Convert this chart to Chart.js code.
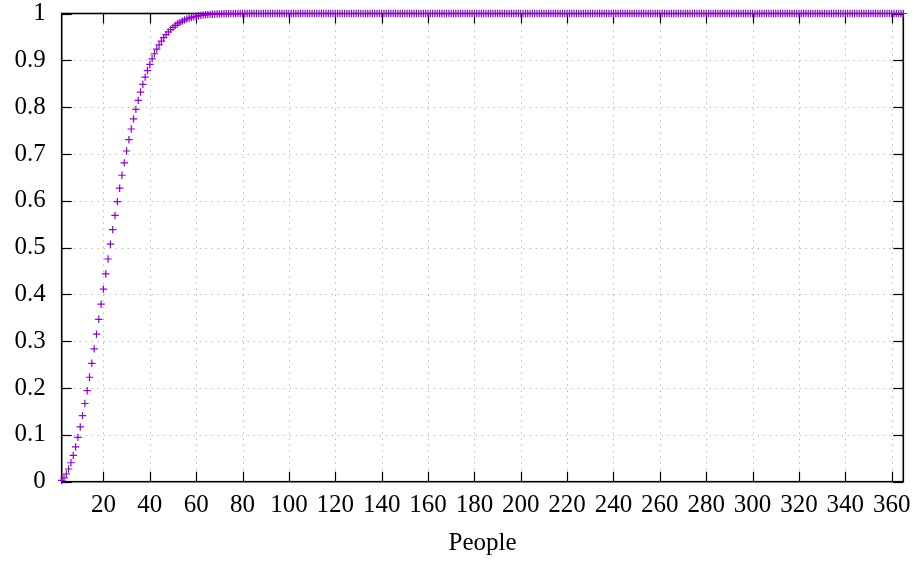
<!DOCTYPE html>
<html>
<head>
<meta charset="utf-8">
<script src="https://cdn.jsdelivr.net/npm/chart.js@4/dist/chart.umd.min.js"></script>
<style>
html,body{margin:0;padding:0;background:#fff;}
#wrap{width:914px;height:563px;position:relative;}
</style>
</head>
<body>
<div id="wrap"><canvas id="c" width="914" height="563"></canvas></div>
<script>
// Number of people in the group (x), starting at 2
const firstPeople = 2;
// Probability for each group size 2..80
const probHead = [
  0.0027, 0.0082, 0.0164, 0.0271, 0.0405, 0.0562, 0.0743, 0.0946, 0.1169,
  0.1411, 0.1670, 0.1944, 0.2231, 0.2529, 0.2836, 0.3150, 0.3469, 0.3791, 0.4114,
  0.4437, 0.4757, 0.5073, 0.5383, 0.5687, 0.5982, 0.6269, 0.6545, 0.6810, 0.7063,
  0.7305, 0.7533, 0.7750, 0.7953, 0.8144, 0.8322, 0.8487, 0.8641, 0.8782, 0.8912,
  0.9032, 0.9140, 0.9239, 0.9329, 0.9410, 0.9483, 0.9548, 0.9606, 0.9658, 0.9704,
  0.9744, 0.9780, 0.9811, 0.9839, 0.9863, 0.9883, 0.9901, 0.9917, 0.9930, 0.9941,
  0.9951, 0.9959, 0.9966, 0.9972, 0.9977, 0.9981, 0.9984, 0.9987, 0.9990, 0.9992,
  0.9993, 0.9995, 0.9996, 0.9997, 0.9997, 0.9998, 0.9998, 0.9999, 0.9999, 0.9999
];
// Group sizes 81..365: the curve sits on 1
const probTail = [
  1,1,1,1,1,1,1,1,1,1,1,1,1,1,1,1,1,1,1,1,
  1,1,1,1,1,1,1,1,1,1,1,1,1,1,1,1,1,1,1,1,
  1,1,1,1,1,1,1,1,1,1,1,1,1,1,1,1,1,1,1,1,
  1,1,1,1,1,1,1,1,1,1,1,1,1,1,1,1,1,1,1,1,
  1,1,1,1,1,1,1,1,1,1,1,1,1,1,1,1,1,1,1,1,
  1,1,1,1,1,1,1,1,1,1,1,1,1,1,1,1,1,1,1,1,
  1,1,1,1,1,1,1,1,1,1,1,1,1,1,1,1,1,1,1,1,
  1,1,1,1,1,1,1,1,1,1,1,1,1,1,1,1,1,1,1,1,
  1,1,1,1,1,1,1,1,1,1,1,1,1,1,1,1,1,1,1,1,
  1,1,1,1,1,1,1,1,1,1,1,1,1,1,1,1,1,1,1,1,
  1,1,1,1,1,1,1,1,1,1,1,1,1,1,1,1,1,1,1,1,
  1,1,1,1,1,1,1,1,1,1,1,1,1,1,1,1,1,1,1,1,
  1,1,1,1,1,1,1,1,1,1,1,1,1,1,1,1,1,1,1,1,
  1,1,1,1,1,1,1,1,1,1,1,1,1,1,1,1,1,1,1,1,
  1,1,1,1,1
];
const xTicks = [20,40,60,80,100,120,140,160,180,200,220,240,260,280,300,320,340,360];
const yTicks = [0,0.1,0.2,0.3,0.4,0.5,0.6,0.7,0.8,0.9,1];
const yTickLabels = ['0','0.1','0.2','0.3','0.4','0.5','0.6','0.7','0.8','0.9','1'];
const xMin = 2, xMax = 365;
const xTitle = 'People';

const probs = probHead.concat(probTail);
const points = probs.map((p, i) => ({x: firstPeople + i, y: p}));

const FONT = "'Liberation Serif', 'DejaVu Serif', serif";
const FSIZE = 25;

const framePlugin = {
  id: 'frame',
  beforeDatasetsDraw(chart) {
    const {ctx, chartArea: a, scales: {x, y}} = chart;
    ctx.save();
    // dotted grid
    ctx.strokeStyle = '#9a9a9a';
    ctx.lineWidth = 1;
    ctx.setLineDash([1, 5]);
    xTicks.forEach(v => {
      const px = Math.round(x.getPixelForValue(v)) + 0.5;
      ctx.beginPath(); ctx.moveTo(px, a.bottom); ctx.lineTo(px, a.top); ctx.stroke();
    });
    yTicks.forEach(v => {
      if (v <= 0 || v >= 1) return;
      const py = Math.round(y.getPixelForValue(v)) + 0.5;
      ctx.beginPath(); ctx.moveTo(a.left, py); ctx.lineTo(a.right, py); ctx.stroke();
    });
    ctx.setLineDash([]);
    // inward ticks, mirrored
    ctx.strokeStyle = '#000';
    ctx.lineWidth = 1.2;
    const tl = 10;
    xTicks.forEach(v => {
      const px = Math.round(x.getPixelForValue(v)) + 0.5;
      ctx.beginPath(); ctx.moveTo(px, a.bottom); ctx.lineTo(px, a.bottom - tl); ctx.stroke();
      ctx.beginPath(); ctx.moveTo(px, a.top); ctx.lineTo(px, a.top + tl); ctx.stroke();
    });
    yTicks.forEach(v => {
      const py = Math.round(y.getPixelForValue(v)) + 0.5;
      ctx.beginPath(); ctx.moveTo(a.left, py); ctx.lineTo(a.left + tl, py); ctx.stroke();
      ctx.beginPath(); ctx.moveTo(a.right, py); ctx.lineTo(a.right - tl, py); ctx.stroke();
    });
    // frame
    ctx.lineWidth = 1.6;
    ctx.strokeRect(a.left, a.top, a.right - a.left, a.bottom - a.top);
    ctx.restore();
  }
};

new Chart(document.getElementById('c'), {
  type: 'scatter',
  data: {
    datasets: [{
      data: points,
      pointStyle: 'cross',
      pointRadius: 3.7,
      pointHoverRadius: 3.7,
      pointBorderWidth: 1.2,
      borderColor: '#9400D3',
      backgroundColor: '#9400D3',
      showLine: false,
      clip: false
    }]
  },
  options: {
    responsive: false,
    animation: false,
    events: [],
    layout: {padding: {left: 0, right: 10.7, top: 13.5, bottom: 0}},
    plugins: {legend: {display: false}, tooltip: {enabled: false}},
    scales: {
      x: {
        type: 'linear',
        min: xMin, max: xMax,
        afterBuildTicks: s => { s.ticks = xTicks.map(v => ({value: v})); },
        afterFit: s => { s.height = 81.3; s.paddingLeft = 0; s.paddingRight = 0; },
        grid: {display: false, drawTicks: false},
        border: {display: false},
        ticks: {
          color: '#000',
          font: {family: FONT, size: FSIZE},
          padding: 9,
          maxRotation: 0,
          autoSkip: false,
          callback: v => String(v)
        },
        title: {
          display: true,
          text: xTitle,
          color: '#000',
          font: {family: FONT, size: FSIZE},
          padding: {top: 0, bottom: 4.7}
        }
      },
      y: {
        min: 0, max: 1,
        afterBuildTicks: s => { s.ticks = yTicks.map(v => ({value: v})); },
        afterFit: s => { s.width = 61.7; s.paddingTop = 0; s.paddingBottom = 0; },
        grid: {display: false, drawTicks: false},
        border: {display: false},
        ticks: {
          color: '#000',
          font: {family: FONT, size: FSIZE},
          padding: 16,
          autoSkip: false,
          callback: (v, i) => yTickLabels[i]
        }
      }
    }
  },
  plugins: [framePlugin]
});
</script>
</body>
</html>
